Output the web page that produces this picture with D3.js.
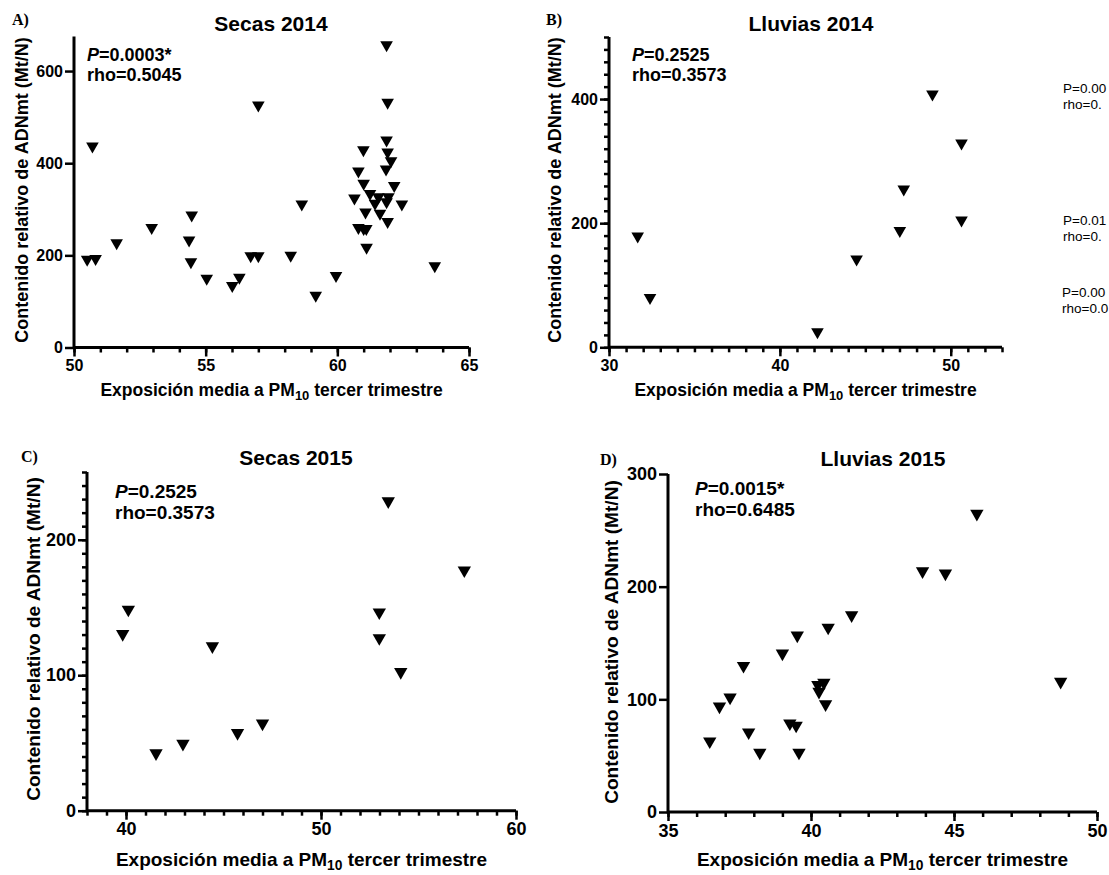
<!DOCTYPE html>
<meta charset="utf-8">
<style>
body { margin: 0; background: #fff; }
svg { display: block; font-family: Arial, "Liberation Sans", sans-serif; }
.domain { stroke: #000; stroke-width: 3; }
.tick line { stroke: #000; stroke-width: 2.5; }
.mark { fill: #000; }
</style>
<body>
<script src="https://d3js.org/d3.v7.min.js"></script>
<script>
// values: [exposure PM10, relative mtDNA content]
var secas2014 = [[50.5,187],[50.82,189],[50.7,433],[51.62,223],[52.95,256],[54.37,229],[54.44,182],[54.47,283],
  [55.04,146],[56.01,130],[56.28,148],[56.71,195],[57.0,195],[57.0,522],[58.23,196],[58.65,307],[59.18,109],
  [59.95,152],[60.65,320],[60.8,379],[60.8,256],[61.0,254],[61.1,254],[61.11,213],[60.99,425],[61.0,352],
  [61.07,290],[61.24,330],[61.43,309],[61.56,323],[61.62,287],[61.85,383],[61.87,446],[61.87,653],[61.87,312],
  [61.91,528],[61.91,420],[61.91,269],[61.94,323],[62.04,401],[62.16,347],[62.45,307],[63.7,173]];
var lluvias2014 = [[31.68,176],[32.4,77],[42.2,22],[44.49,139],[47.02,185],[47.25,252],[48.93,405],[50.63,326],[50.63,202]];
var secas2015 = [[39.83,129],[40.12,147],[41.54,41],[42.92,48],[44.43,120],[45.72,56],[47.0,63],[52.99,145],
  [52.99,126],[53.45,227],[54.09,101],[57.35,176]];
var lluvias2015 = [[36.46,61],[36.8,92],[37.17,100],[37.64,128],[37.82,69],[38.21,51],[39.0,139],[39.26,77],
  [39.48,75],[39.52,155],[39.58,51],[40.24,111],[40.28,105],[40.45,113],[40.51,94],[40.6,162],[41.42,173],
  [43.9,212],[44.7,210],[45.8,263],[48.73,114]];

var titles = ["Secas 2014", "Lluvias 2014", "Secas 2015", "Lluvias 2015"];
var letters = ["A)", "B)", "C)", "D)"];
var pValues = ["0.0003*", "0.2525", "0.2525", "0.0015*"];
var rhoValues = ["0.5045", "0.3573", "0.3573", "0.6485"];
var xTicks = [[50,55,60,65], [30,40,50], [40,50,60], [35,40,45,50]];
var yTicks = [[0,200,400,600], [0,200,400], [0,100,200], [0,100,200,300]];
var xDomains = [[50,65], [30,53], [38,60], [35,50]];
var yDomains = [[0,675], [0,500], [0,250], [0,300]];
var yMinorStep = [0, 20, 10, 0];
var sideNotes = [["P=0.00","rho=0."], ["P=0.01","rho=0."], ["P=0.00","rho=0.0"]];

var yTitle = "Contenido relativo de ADNmt (Mt/N)";

// layout of the four panels
var layout = [
  {x:[74,469], y:[347.5,36.5], tf:16, af:18, title:[271,31], ann:[87,61], letter:[12,25], yt:[28,190], xt:396, xf:17.5},
  {x:[609,1002], y:[347.3,37], tf:16, af:18, title:[811,31], ann:[632,61], letter:[546,25], yt:[561,190], xt:396, xf:17.5},
  {x:[87,516], y:[810.7,472], tf:18, af:19, title:[296,465], ann:[115,498], letter:[21,462], yt:[40,639], xt:866, xf:19},
  {x:[668,1097], y:[812,474], tf:18, af:19, title:[883,466], ann:[695,495], letter:[600,465], yt:[618,642], xt:866, xf:19}
];
var datasets = [secas2014, lluvias2014, secas2015, lluvias2015];

var svg = d3.select("body").append("svg")
    .attr("width", 1109)
    .attr("height", 875);

function tri(s) {
  var w = 6.3 * s, h = 5.5 * s;
  return "M" + (-w) + "," + (-h) + "L" + w + "," + (-h) + "L0," + h + "Z";
}

function styleTicks(g, size) {
  g.attr("font-family", null).attr("font-size", null);
  g.selectAll(".tick text")
    .style("font-family", "Arial, 'Liberation Sans', sans-serif")
    .style("font-size", size + "px")
    .style("font-weight", "bold")
    .style("fill", "#000");
}

datasets.forEach(function(data, i) {
  var L = layout[i];
  var x = d3.scaleLinear().domain(xDomains[i]).range(L.x);
  var y = d3.scaleLinear().domain(yDomains[i]).range(L.y);
  var s = i < 2 ? 1 : 1.06;

  // minor x ticks every unit
  var xMinor = d3.range(xDomains[i][0], xDomains[i][1] + 0.001, 1);
  svg.append("g")
      .attr("transform", "translate(0," + L.y[0] + ")")
      .call(d3.axisBottom(x).tickValues(xMinor).tickSize(5).tickFormat("").tickSizeOuter(0))
      .select(".domain").remove();
  var gx = svg.append("g")
      .attr("transform", "translate(0," + L.y[0] + ")")
      .call(d3.axisBottom(x).tickValues(xTicks[i]).tickSize(9).tickPadding(3).tickSizeOuter(0));
  styleTicks(gx, L.tf);

  if (yMinorStep[i]) {
    var yMinor = d3.range(yDomains[i][0], yDomains[i][1] + 0.001, yMinorStep[i]);
    svg.append("g")
        .attr("transform", "translate(" + L.x[0] + ",0)")
        .call(d3.axisLeft(y).tickValues(yMinor).tickSize(5).tickFormat("").tickSizeOuter(0))
        .select(".domain").remove();
  }
  var gy = svg.append("g")
      .attr("transform", "translate(" + L.x[0] + ",0)")
      .call(d3.axisLeft(y).tickValues(yTicks[i]).tickSize(9).tickPadding(2).tickSizeOuter(0));
  styleTicks(gy, L.tf);
  gy.select(".domain").attr("d", "M0," + (L.y[0] + 1.5) + "V" + L.y[1]);
  gx.select(".domain").attr("d", "M" + L.x[0] + ",0H" + L.x[1]);

  svg.selectAll(null)
      .data(data)
    .enter().append("path")
      .attr("class", "mark")
      .attr("d", tri(s))
      .attr("transform", function(d) { return "translate(" + x(d[0]) + "," + y(d[1]) + ")"; });

  // title
  svg.append("text")
      .attr("x", L.title[0]).attr("y", L.title[1])
      .attr("text-anchor", "middle")
      .style("font-size", "21px").style("font-weight", "bold")
      .text(titles[i]);

  // panel letter
  svg.append("text")
      .attr("x", L.letter[0]).attr("y", L.letter[1])
      .style("font-family", "'Liberation Serif', 'Times New Roman', serif")
      .style("font-size", "16px").style("font-weight", "bold")
      .text(letters[i]);

  // P and rho
  var ann = svg.append("text")
      .attr("x", L.ann[0]).attr("y", L.ann[1])
      .style("font-size", L.af + "px").style("font-weight", "bold");
  ann.append("tspan").style("font-style", "italic").text("P");
  ann.append("tspan").text("=" + pValues[i]);
  svg.append("text")
      .attr("x", L.ann[0]).attr("y", L.ann[1] + 20 * s)
      .style("font-size", L.af + "px").style("font-weight", "bold")
      .text("rho=" + rhoValues[i]);

  // y title
  svg.append("text")
      .attr("transform", "translate(" + L.yt[0] + "," + L.yt[1] + ") rotate(-90)")
      .attr("text-anchor", "middle")
      .style("font-size", (18 * s) + "px").style("font-weight", "bold")
      .text(yTitle);

  // x title with subscript
  var xt = svg.append("text")
      .attr("x", (L.x[0] + L.x[1]) / 2).attr("y", L.xt)
      .attr("text-anchor", "middle")
      .style("font-size", L.xf + "px").style("font-weight", "bold");
  xt.append("tspan").text("Exposición media a PM");
  xt.append("tspan").attr("dy", 4 * s).style("font-size", (13 * s) + "px").text("10");
  xt.append("tspan").attr("dy", -4 * s).text(" tercer trimestre");
});

// stray notes at the right edge
var notePos = [[1063, 93], [1063, 225], [1062, 297]];
sideNotes.forEach(function(n, i) {
  n.forEach(function(t, j) {
    svg.append("text")
        .attr("x", notePos[i][0]).attr("y", notePos[i][1] + j * 16)
        .style("font-size", "13.5px")
        .text(t);
  });
});
</script>
